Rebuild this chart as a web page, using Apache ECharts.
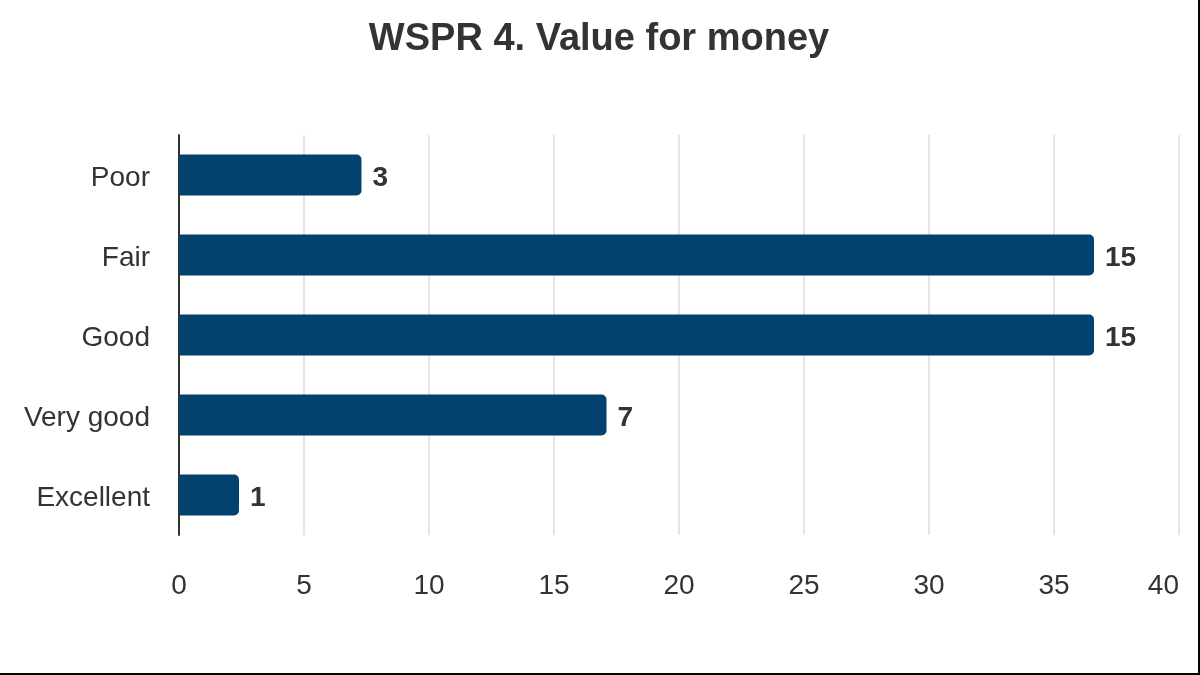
<!DOCTYPE html>
<html>
<head>
<meta charset="utf-8">
<script src="https://cdn.jsdelivr.net/npm/echarts@6/dist/echarts.min.js"></script>
<style>
  html, body { margin: 0; padding: 0; background: #fff; }
  #chart { width: 1198px; height: 673px; border-right: 2px solid #000; border-bottom: 2px solid #000; }
</style>
</head>
<body>
<div id="chart"></div>
<script>
// categories top to bottom as drawn
const categories = ["Poor", "Fair", "Good", "Very good", "Excellent"];
// response counts shown as labels
const counts = [3, 15, 15, 7, 1];
// bar lengths (share of responses, %)
const shares = [7.3, 36.6, 36.6, 17.1, 2.4];
const xTicks = [0, 5, 10, 15, 20, 25, 30, 35, 40];

const chart = echarts.init(document.getElementById("chart"));
const font = "Liberation Sans, Arial, sans-serif";

chart.setOption({
  animation: false,
  title: {
    text: "WSPR 4. Value for money",
    left: "center",
    top: 16,
    textStyle: { fontFamily: font, fontSize: 38, fontWeight: "bold", color: "#333" }
  },
  grid: { left: 179, right: 19, top: 135, bottom: 138 },
  xAxis: {
    type: "value",
    min: xTicks[0],
    max: xTicks[xTicks.length - 1],
    interval: 5,
    axisLine: { show: false },
    axisTick: { show: false },
    splitLine: { lineStyle: { color: "#dddddd", width: 1.5 } },
    axisLabel: {
      fontFamily: font, fontSize: 28, color: "#333", margin: 37,
      alignMaxLabel: "right"
    }
  },
  yAxis: {
    type: "category",
    data: categories,
    inverse: true,
    axisLine: { show: true, lineStyle: { color: "#333", width: 2 } },
    axisTick: { show: false },
    axisLabel: {
      margin: 29,
      formatter: v => "{c|" + v + "}",
      rich: { c: { fontFamily: font, fontSize: 28, color: "#333", padding: [6, 0, 0, 0] } }
    }
  },
  series: [{
    type: "bar",
    data: shares,
    barWidth: 41,
    itemStyle: { color: "#03426f", borderRadius: [0, 5, 5, 0] },
    label: {
      show: true,
      position: "right",
      distance: 11,
      offset: [0, 3],
      fontFamily: font,
      fontSize: 28,
      fontWeight: "bold",
      color: "#333",
      formatter: p => counts[p.dataIndex]
    }
  }]
});
</script>
</body>
</html>
